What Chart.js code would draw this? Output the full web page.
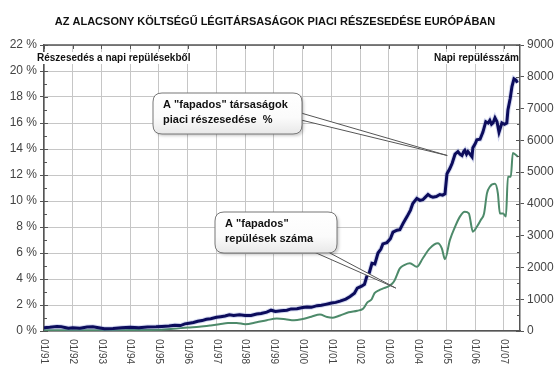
<!DOCTYPE html>
<html lang="hu">
<head>
<meta charset="UTF-8">
<style>
  html, body { margin: 0; padding: 0; background: #fff; }
</style>
</head>
<body>
<canvas id="chart" width="560" height="381"></canvas>

<script src="https://cdn.jsdelivr.net/npm/chart.js"></script>
<script>
// market share of low-cost carriers (%), left axis
const shareDates = [1991.0, 1991.2, 1991.45, 1991.6, 1991.85, 1992.0, 1992.25, 1992.5, 1992.7, 1992.9,
  1993.1, 1993.4, 1993.7, 1994.0, 1994.3, 1994.6, 1994.9, 1995.1, 1995.35, 1995.55,
  1995.75, 1995.9, 1996.05, 1996.2, 1996.35, 1996.5, 1996.65, 1996.8, 1997.0, 1997.15,
  1997.3, 1997.45, 1997.6, 1997.8, 1998.0, 1998.2, 1998.4, 1998.55, 1998.75, 1998.9,
  1999.05, 1999.25, 1999.45, 1999.6, 1999.8, 2000.0, 2000.15, 2000.3, 2000.5, 2000.65,
  2000.8, 2001.0, 2001.15, 2001.3, 2001.5, 2001.65, 2001.8, 2001.9, 2002.05, 2002.15,
  2002.23, 2002.32, 2002.41, 2002.51, 2002.62, 2002.72, 2002.79, 2002.93, 2003.05, 2003.14,
  2003.28, 2003.38, 2003.5, 2003.63, 2003.75, 2003.83, 2003.97, 2004.08, 2004.18, 2004.27,
  2004.36, 2004.45, 2004.53, 2004.65, 2004.77, 2004.87, 2004.95, 2005.02, 2005.12, 2005.2,
  2005.3, 2005.4, 2005.47, 2005.54, 2005.6, 2005.64, 2005.7, 2005.75, 2005.82, 2005.89,
  2005.92, 2006.0, 2006.06, 2006.17, 2006.27, 2006.37, 2006.45, 2006.51, 2006.57, 2006.62,
  2006.69, 2006.76, 2006.83, 2006.93, 2007.02, 2007.1, 2007.14, 2007.22, 2007.28, 2007.35,
  2007.42, 2007.47];
const shareValues = [0.25, 0.28, 0.35, 0.32, 0.22, 0.25, 0.22, 0.3, 0.33, 0.25,
  0.18, 0.2, 0.25, 0.28, 0.25, 0.3, 0.32, 0.35, 0.38, 0.45,
  0.42, 0.55, 0.6, 0.65, 0.75, 0.8, 0.9, 0.95, 1.05, 1.1,
  1.15, 1.25, 1.2, 1.25, 1.2, 1.2, 1.3, 1.35, 1.45, 1.6,
  1.5, 1.55, 1.6, 1.7, 1.72, 1.8, 1.85, 1.82, 1.95, 1.98,
  2.05, 2.15, 2.2, 2.3, 2.45, 2.65, 2.9, 3.3, 3.45, 3.6,
  4.2, 4.5, 5.2, 5.15, 6.0, 6.3, 6.7, 6.8, 7.1, 7.6,
  7.75, 7.8, 8.3, 8.8, 9.3, 9.8, 10.2, 10.05, 10.1, 10.3,
  10.5, 10.35, 10.3, 10.35, 10.5, 10.45, 10.55, 12.1, 12.5, 12.9,
  13.6, 13.8, 13.6, 13.5, 13.8, 13.9, 13.6, 13.8, 13.6, 13.4,
  14.1, 14.4, 14.7, 14.75, 15.3, 16.1, 16.0, 16.2, 15.9, 16.0,
  16.4, 16.1, 15.3, 16.0, 15.9, 16.0, 17.0, 17.9, 18.8, 19.4,
  19.3, 19.1];

// daily number of low-cost flights, right axis
const flightDates = [1991.0, 1992.0, 1993.0, 1994.0, 1995.0, 1995.5, 1996.0, 1996.4, 1996.8, 1997.1,
  1997.4, 1997.7, 1998.0, 1998.4, 1998.75, 1999.1, 1999.4, 1999.7, 2000.0, 2000.3,
  2000.6, 2000.85, 2001.05, 2001.3, 2001.6, 2001.9, 2002.1, 2002.25, 2002.4, 2002.5,
  2002.65, 2002.8, 2002.97, 2003.1, 2003.2, 2003.38, 2003.55, 2003.73, 2003.97, 2004.18,
  2004.42, 2004.7, 2004.84, 2004.95, 2005.12, 2005.3, 2005.47, 2005.64, 2005.78, 2005.92,
  2006.06, 2006.2, 2006.31, 2006.41, 2006.51, 2006.69, 2006.79, 2006.86, 2006.97, 2007.07,
  2007.14, 2007.24, 2007.31, 2007.42, 2007.49];
const flightValues = [20, 25, 20, 30, 40, 70, 110, 135, 175, 210,
  250, 255, 215, 275, 340, 390, 370, 340, 380, 450,
  520, 440, 420, 490, 590, 640, 700, 900, 1000, 1190,
  1280, 1340, 1400, 1480, 1600, 1970, 2080, 2130, 2020, 2290,
  2600, 2760, 2600, 2260, 2860, 3280, 3600, 3750, 3700, 3125,
  3280, 3500, 3700, 4330, 4540, 4630, 4330, 3700, 3700, 3600,
  4856, 4856, 5600, 5540, 5480];

const yearLabels = ["01/91", "01/92", "01/93", "01/94", "01/95", "01/96", "01/97", "01/98", "01/99",
  "01/00", "01/01", "01/02", "01/03", "01/04", "01/05", "01/06", "01/07"];

const sharePoints = shareDates.map((d, i) => ({ x: d, y: shareValues[i] }));
const flightPoints = flightDates.map((d, i) => ({ x: d, y: flightValues[i] }));

const axisColor = "#555";
const gridColor = "#c6c6c6";
const font = "Arial, 'Liberation Sans', sans-serif";

function roundRect(ctx, x, y, w, h, r) {
  ctx.beginPath();
  ctx.moveTo(x + r, y);
  ctx.lineTo(x + w - r, y);
  ctx.quadraticCurveTo(x + w, y, x + w, y + r);
  ctx.lineTo(x + w, y + h - r);
  ctx.quadraticCurveTo(x + w, y + h, x + w - r, y + h);
  ctx.lineTo(x + r, y + h);
  ctx.quadraticCurveTo(x, y + h, x, y + h - r);
  ctx.lineTo(x, y + r);
  ctx.quadraticCurveTo(x, y, x + r, y);
  ctx.closePath();
}

function bubble(ctx, b, base1, base2, tip, lines) {
  ctx.save();
  // tail
  ctx.beginPath();
  ctx.moveTo(base1[0], base1[1]);
  ctx.lineTo(tip[0], tip[1]);
  ctx.lineTo(base2[0], base2[1]);
  ctx.closePath();
  ctx.fillStyle = "#fff";
  ctx.fill();
  ctx.beginPath();
  ctx.moveTo(base1[0], base1[1]);
  ctx.lineTo(tip[0], tip[1]);
  ctx.lineTo(base2[0], base2[1]);
  ctx.strokeStyle = "#555";
  ctx.lineWidth = 1;
  ctx.stroke();
  // box
  ctx.shadowColor = "rgba(0,0,0,0.2)";
  ctx.shadowBlur = 3;
  ctx.shadowOffsetX = 2;
  ctx.shadowOffsetY = 2;
  roundRect(ctx, b.x, b.y, b.w, b.h, 9);
  const g = ctx.createLinearGradient(0, b.y, 0, b.y + b.h);
  g.addColorStop(0, "#ffffff");
  g.addColorStop(0.6, "#fbfbfb");
  g.addColorStop(1, "#e8e8e8");
  ctx.fillStyle = g;
  ctx.fill();
  ctx.shadowColor = "transparent";
  ctx.strokeStyle = "#777";
  ctx.stroke();
  ctx.fillStyle = "#111";
  ctx.font = "bold 11px " + font;
  ctx.textAlign = "left";
  ctx.textBaseline = "middle";
  lines.forEach((t, i) => ctx.fillText(t, b.x + 10, b.y + 12 + i * 15));
  ctx.restore();
}

const decor = {
  id: "decor",
  afterDraw(chart) {
    const ctx = chart.ctx;
    const a = chart.chartArea;
    const x = chart.scales.x, y = chart.scales.y, y1 = chart.scales.y1;
    ctx.save();

    // top frame with year ticks
    ctx.strokeStyle = axisColor;
    ctx.lineWidth = 1.5;
    ctx.beginPath();
    ctx.moveTo(a.left, a.top);
    ctx.lineTo(a.right, a.top);
    ctx.stroke();
    ctx.lineWidth = 1;
    yearLabels.forEach((lab, i) => {
      const px = Math.round(x.getPixelForValue(1991 + i)) + 0.5;
      ctx.beginPath();
      ctx.moveTo(px, a.top);
      ctx.lineTo(px, a.top + 4);
      ctx.stroke();
    });

    // minor + inner ticks on left axis
    for (let v = 0; v <= 22; v++) {
      const py = Math.round(y.getPixelForValue(v)) + 0.5;
      ctx.beginPath();
      ctx.moveTo(a.left, py);
      ctx.lineTo(a.left + (v % 2 === 0 ? 4 : 3), py);
      ctx.stroke();
    }
    // minor + inner ticks on right axis
    for (let v = 0; v <= 9000; v += 500) {
      const py = Math.round(y1.getPixelForValue(v)) + 0.5;
      ctx.beginPath();
      ctx.moveTo(a.right - (v % 1000 === 0 ? 4 : 3), py);
      ctx.lineTo(a.right, py);
      ctx.stroke();
    }

    // rotated year labels
    ctx.fillStyle = "#444";
    ctx.font = "10px " + font;
    ctx.textAlign = "left";
    ctx.textBaseline = "middle";
    yearLabels.forEach((lab, i) => {
      const px = x.getPixelForValue(1991 + i);
      ctx.save();
      ctx.translate(px, a.bottom + 8);
      ctx.rotate(Math.PI / 2);
      ctx.fillText(lab, 0, 0);
      ctx.restore();
    });

    // title
    ctx.fillStyle = "#111";
    ctx.font = "bold 11px " + font;
    ctx.textAlign = "center";
    ctx.fillText("AZ ALACSONY KÖLTSÉGŰ LÉGITÁRSASÁGOK PIACI RÉSZESEDÉSE EURÓPÁBAN", 275, 22);

    // axis captions with white backing
    ctx.font = "bold 10px " + font;
    ctx.textAlign = "left";
    let t = "Részesedés a napi repülésekből";
    let w = ctx.measureText(t).width;
    ctx.fillStyle = "#fff";
    ctx.fillRect(35, 52, w + 4, 12);
    ctx.fillStyle = "#111";
    ctx.fillText(t, 37, 58);
    t = "Napi repülésszám";
    w = ctx.measureText(t).width;
    ctx.fillStyle = "#fff";
    ctx.fillRect(a.right - w - 3, 52, w + 2, 12);
    ctx.fillStyle = "#111";
    ctx.textAlign = "right";
    ctx.fillText(t, a.right - 1, 58);

    // callouts
    bubble(ctx, { x: 153, y: 93, w: 149, h: 41 }, [301, 113], [301, 120],
      [x.getPixelForValue(2005.03), y.getPixelForValue(13.5)],
      ["A \"fapados\" társaságok", "piaci részesedése  %"]);
    bubble(ctx, { x: 215, y: 212, w: 122, h: 41 }, [314, 252], [328, 252],
      [x.getPixelForValue(2003.24), y1.getPixelForValue(1350)],
      ["A \"fapados\"", "repülések száma"]);

    ctx.restore();
  }
};

const ctx = document.getElementById("chart").getContext("2d");
new Chart(ctx, {
  type: "line",
  data: {
    datasets: [
      { data: sharePoints, yAxisID: "y", borderColor: "#0c0c5c", borderWidth: 3, pointRadius: 0, tension: 0 },
      { data: sharePoints, yAxisID: "y", borderColor: "rgba(90,110,200,0.25)", borderWidth: 5, pointRadius: 0, tension: 0 },
      { data: flightPoints, yAxisID: "y1", borderColor: "#4d8a6a", borderWidth: 2, pointRadius: 0, cubicInterpolationMode: "monotone" }
    ]
  },
  options: {
    responsive: false,
    animation: false,
    devicePixelRatio: 1,
    layout: { padding: { top: 45, left: 0, right: 0, bottom: 0 } },
    plugins: { legend: { display: false }, tooltip: { enabled: false } },
    scales: {
      x: {
        type: "linear", min: 1991, max: 2007.56,
        ticks: { stepSize: 1, includeBounds: false, display: false },
        grid: { color: gridColor, drawTicks: false },
        border: { color: axisColor, width: 1.5 },
        afterFit: s => { s.height = 50; }
      },
      y: {
        position: "left", min: 0, max: 22,
        ticks: { stepSize: 2, callback: v => v + " %", color: "#444", font: { family: font, size: 12 }, padding: 3 },
        grid: { color: gridColor, tickColor: axisColor, tickLength: 4 },
        border: { color: axisColor, width: 1.5 },
        afterFit: s => { s.width = 44; }
      },
      y1: {
        position: "right", min: 0, max: 9000,
        ticks: { stepSize: 1000, callback: v => String(v), color: "#444", font: { family: font, size: 12 }, padding: 3 },
        grid: { drawOnChartArea: false, tickColor: axisColor, tickLength: 4 },
        border: { color: axisColor, width: 1.5 },
        afterFit: s => { s.width = 40; }
      }
    }
  },
  plugins: [decor]
});
</script>
</body>
</html>
